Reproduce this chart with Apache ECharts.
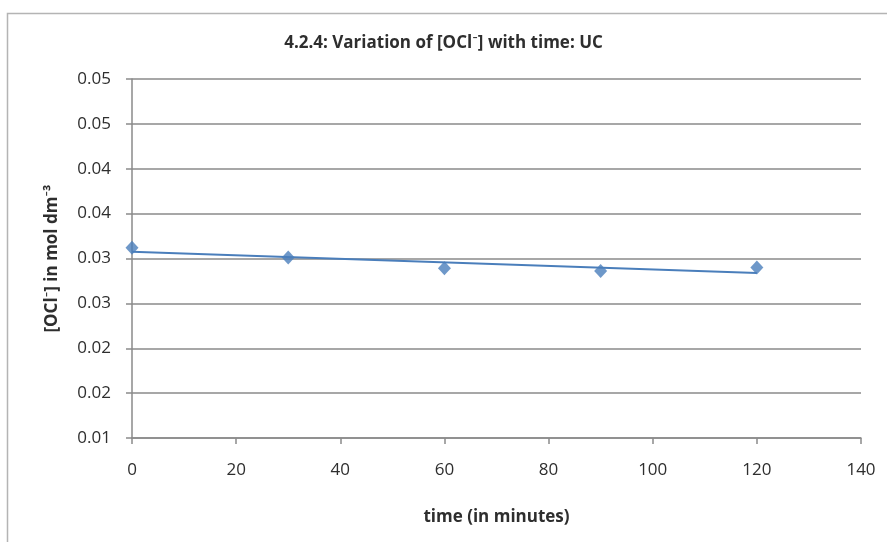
<!DOCTYPE html>
<html><head><meta charset="utf-8">
<script src="https://cdn.jsdelivr.net/npm/echarts@6/dist/echarts.min.js"></script>
<style>html,body{margin:0;padding:0;background:#fff}#c{width:887px;height:542px}</style>
</head><body><div id="c"></div>
<script>
// Data
const timeMinutes = [0, 30, 60, 90, 120];
const oclConc = [0.0312, 0.0301, 0.0289, 0.0286, 0.0290];
const yTickLabels = ['0.01', '0.02', '0.02', '0.03', '0.03', '0.04', '0.04', '0.05', '0.05'];
const yMin = 0.01, yMax = 0.05, yStep = 0.005;
const xMin = 0, xMax = 140, xStep = 20;

// linear trendline (least squares) from the data
const n = timeMinutes.length;
const mx = timeMinutes.reduce((a, b) => a + b, 0) / n;
const my = oclConc.reduce((a, b) => a + b, 0) / n;
let sxy = 0, sxx = 0;
for (let i = 0; i < n; i++) { sxy += (timeMinutes[i] - mx) * (oclConc[i] - my); sxx += (timeMinutes[i] - mx) ** 2; }
const slope = sxy / sxx, icpt = my - slope * mx;
const xFirst = timeMinutes[0], xLast = timeMinutes[n - 1];
const trend = [[xFirst, icpt + slope * xFirst], [xLast, icpt + slope * xLast]];

const font = '"Open Sans", Lato, sans-serif';
const blue = '#4a7ebb';
const gridGray = '#8a8a8a';
const textCol = '#2e2e2e';

const chart = echarts.init(document.getElementById('c'), null, {renderer: 'canvas'});
chart.setOption({
  backgroundColor: '#ffffff',
  animation: false,
  textStyle: {fontFamily: font},
  graphic: [{
    type: 'rect', left: 5, top: 11, shape: {width: 950, height: 600},
    style: {fill: 'none', stroke: '#b4b4b4', lineWidth: 1.5}, silent: true, z: -1
  }],
  title: {
    text: '4.2.4: Variation of [OCl\u207B] with time: UC',
    left: 'center', top: 30,
    textStyle: {fontFamily: font, fontSize: 17, fontWeight: 'bold', color: textCol}
  },
  grid: {left: 132, top: 79, right: 26, bottom: 104, containLabel: false},
  xAxis: {
    type: 'value', min: xMin, max: xMax, interval: xStep,
    name: 'time (in minutes)', nameLocation: 'middle', nameGap: 71,
    nameTextStyle: {fontFamily: font, fontSize: 17, fontWeight: 'bold', color: textCol},
    axisLine: {show: true, onZero: false, lineStyle: {color: gridGray, width: 1.5}},
    axisTick: {show: true, inside: false, length: 6, lineStyle: {color: gridGray, width: 1.5}},
    axisLabel: {fontFamily: font, fontSize: 17, color: textCol, margin: 24},
    splitLine: {show: false}
  },
  yAxis: {
    type: 'value', min: yMin, max: yMax, interval: yStep,
    name: '[OCl\u207B] in mol dm\u207B\u00B3', nameLocation: 'middle', nameGap: 71, nameRotate: 90,
    nameTextStyle: {fontFamily: font, fontSize: 17, fontWeight: 'bold', color: textCol},
    axisLine: {show: true, onZero: false, lineStyle: {color: gridGray, width: 1.5}},
    axisTick: {show: true, inside: false, length: 6, lineStyle: {color: gridGray, width: 1.5}},
    axisLabel: {
      fontFamily: font, fontSize: 17, color: textCol, margin: 21,
      formatter: v => yTickLabels[Math.round((v - yMin) / yStep)] || ''
    },
    splitLine: {show: true, lineStyle: {color: gridGray, width: 1.5}}
  },
  series: [
    {
      type: 'line', data: trend, showSymbol: false, symbol: 'none',
      lineStyle: {color: blue, width: 2}, z: 2, silent: true
    },
    {
      type: 'scatter', data: timeMinutes.map((t, i) => [t, oclConc[i]]),
      symbol: 'diamond', symbolSize: [13, 14],
      itemStyle: {color: blue}, z: 3
    }
  ]
});
</script></body></html>
